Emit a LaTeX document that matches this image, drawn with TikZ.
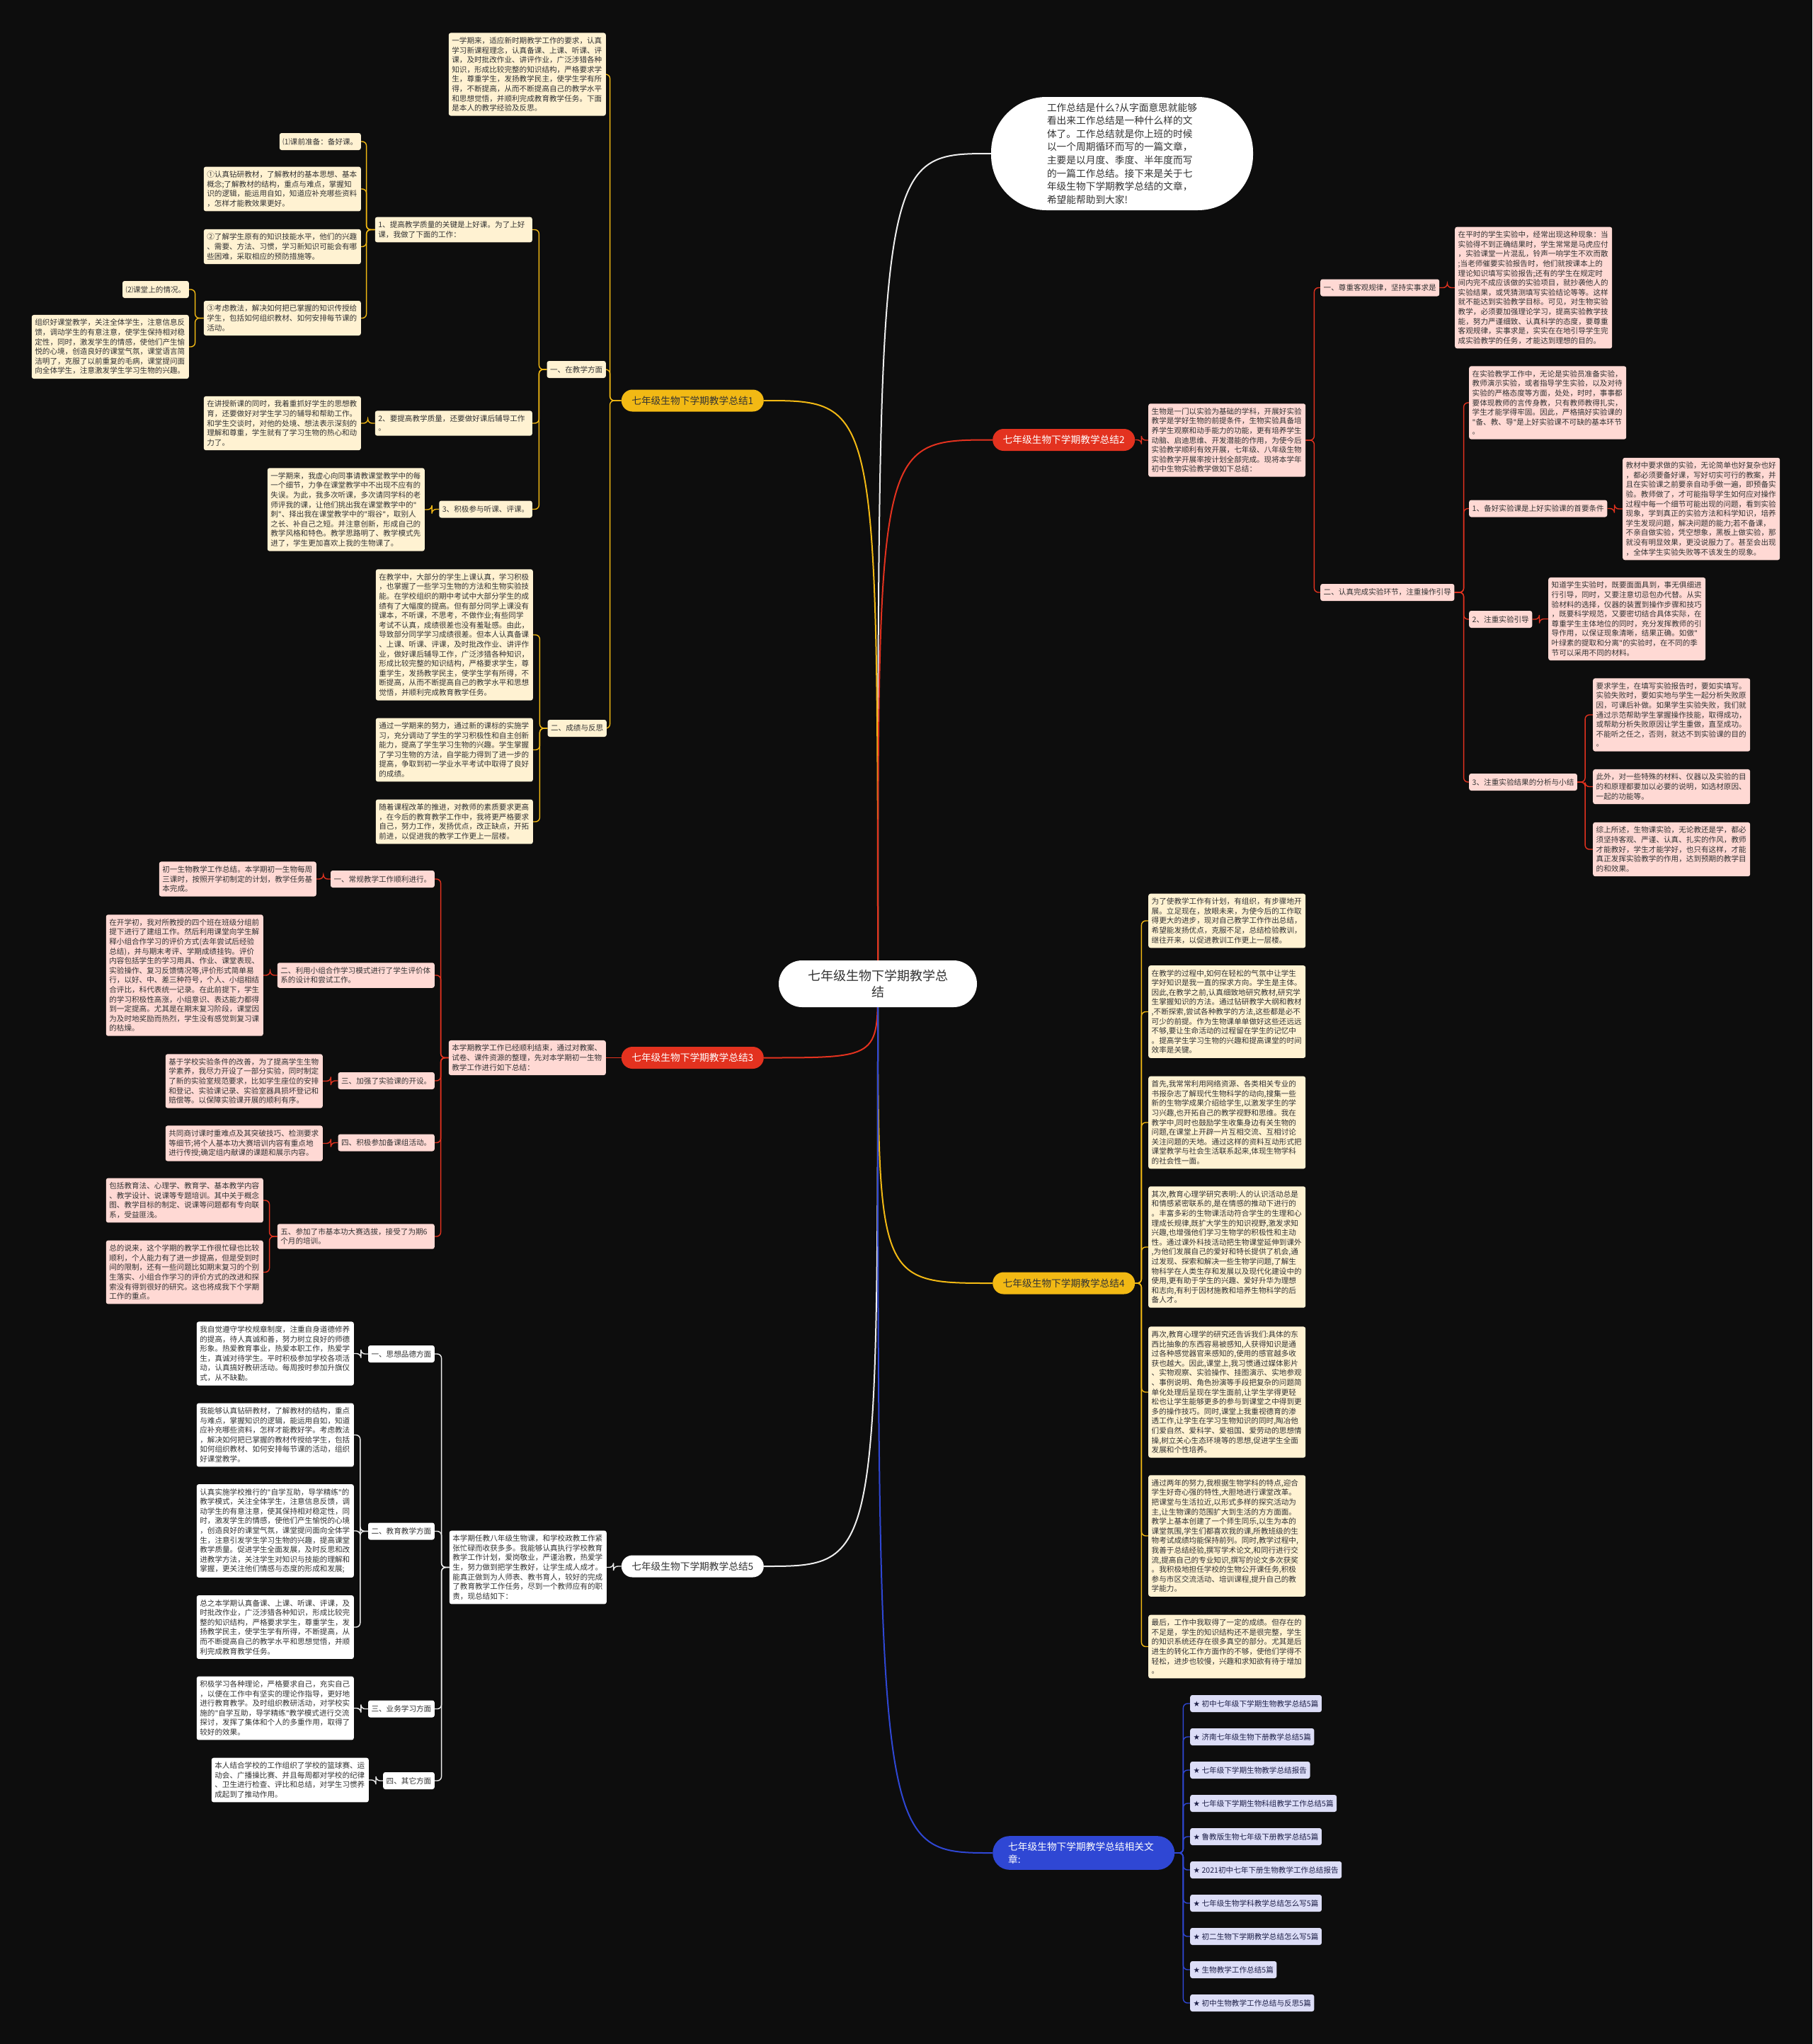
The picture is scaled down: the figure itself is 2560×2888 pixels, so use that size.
\documentclass[tikz,border=0pt]{standalone}
\usepackage{fontspec}
\setmainfont{Noto Sans CJK SC}
\newfontfamily\starfont{DejaVu Sans}
\newcommand\qt{{\starfont"}}
\usetikzlibrary{calc}
\definecolor{bgc}{HTML}{0D0D0D}
\definecolor{goldc}{HTML}{F2B914}
\definecolor{redc}{HTML}{E3321F}
\definecolor{bluec}{HTML}{2F47D4}
\definecolor{wline}{HTML}{EDEDED}
\definecolor{cream}{HTML}{FFF2D2}
\definecolor{pinkc}{HTML}{FFD9D4}
\definecolor{lavc}{HTML}{DCDDF7}
\definecolor{txt}{HTML}{333333}
\definecolor{navy}{HTML}{1E2048}
\pgfdeclarelayer{back}
\pgfdeclarelayer{bg}
\pgfsetlayers{back,bg,main}
\begin{document}
\begin{tikzpicture}[x=1pt,y=-1pt,
  bx/.style={rounded corners=3pt, inner xsep=4.5pt, inner ysep=6pt, align=left, text width=213pt, font=\fontsize{10.6}{13.6}\selectfont, text=txt},
  lb/.style={rounded corners=3pt, inner xsep=4.5pt, inner ysep=4pt, minimum height=24pt, align=left, font=\fontsize{10.6}{13.6}\selectfont, text=txt},
  yc/.style={fill=cream},
  pc/.style={fill=pinkc},
  wc/.style={fill=white},
  lc/.style={fill=lavc, text=navy},
  pill/.style={rounded corners=15.5pt, minimum height=31pt, inner xsep=14.5pt, inner ysep=3pt, font=\fontsize{13.7}{16}\selectfont},
  k0/.style={line width=2pt},
  e1/.style={draw=goldc, line width=1.4pt, rounded corners=6pt},
  e2/.style={draw=redc, line width=1.4pt, rounded corners=6pt},
  e5/.style={draw=wline, line width=1.4pt, rounded corners=6pt},
  e6/.style={draw=bluec, line width=1.4pt, rounded corners=6pt}
]
\begin{pgfonlayer}{back}
\fill[bgc] (0,0) rectangle (2560,2888);
\end{pgfonlayer}
\useasboundingbox (0,0) rectangle (2560,2888);

% ---------- centre and intro bubble ----------
\node[fill=white, rounded corners=33pt, minimum width=280pt, minimum height=66pt, align=center, text=txt, font=\fontsize{18}{23}\selectfont] (ctr) at (1240,1390) {七年级生物下学期教学总\\结};
\node[fill=white, rounded corners=78pt, minimum width=370pt, minimum height=160pt, align=left, text=txt, font=\fontsize{13.7}{18.6}\selectfont] (intro) at (1585,217) {工作总结是什么?从字面意思就能够\\看出来工作总结是一种什么样的文\\体了。工作总结就是你上班的时候\\以一个周期循环而写的一篇文章，\\主要是以月度、季度、半年度而写\\的一篇工作总结。接下来是关于七\\年级生物下学期教学总结的文章，\\希望能帮助到大家!};

% ---------- branch pills ----------
\node[pill, fill=goldc, text=txt, anchor=east] (b1) at (1079,566) {七年级生物下学期教学总结1};
\node[pill, fill=redc, text=white, anchor=west] (b2) at (1402,621.5) {七年级生物下学期教学总结2};
\node[pill, fill=redc, text=white, anchor=east] (b3) at (1079,1494.5) {七年级生物下学期教学总结3};
\node[pill, fill=goldc, text=txt, anchor=west] (b4) at (1402,1813) {七年级生物下学期教学总结4};
\node[pill, fill=white, text=txt, anchor=east] (b5) at (1079,2213) {七年级生物下学期教学总结5};
\node[rounded corners=24pt, fill=bluec, text=white, anchor=west, align=left, text width=213pt, inner xsep=22pt, inner ysep=8.5pt, font=\fontsize{13.7}{18}\selectfont] (b6) at (1402,2618) {七年级生物下学期教学总结相关文\\章:};

% ---------- branch 1 ----------
\node[bx,yc,anchor=east] (n1intro) at (856,105) {一学期来，适应新时期教学工作的要求，认真\\学习新课程理念，认真备课、上课、听课、评\\课，及时批改作业、讲评作业，广泛涉猎各种\\知识，形成比较完整的知识结构，严格要求学\\生，尊重学生，发扬教学民主，使学生学有所\\得，不断提高，从而不断提高自己的教学水平\\和思想觉悟，并顺利完成教育教学任务。下面\\是本人的教学经验及反思。};
\node[lb,yc,anchor=east] (n1a) at (856,522) {一、在教学方面};
\node[lb,yc,anchor=east] (n1b) at (857,1029) {二、成绩与反思};
\node[bx,yc,anchor=east] (n1a1) at (752,324.5) {1、提高教学质量的关键是上好课。为了上好\\课，我做了下面的工作：};
\node[bx,yc,anchor=east] (n1a2) at (752,598) {2、要提高教学质量，还要做好课后辅导工作\\。};
\node[lb,yc,anchor=east] (n1a3) at (752,719.5) {3、积极参与听课、评课。};
\node[lb,yc,anchor=east] (n1a1p) at (510,200) {⑴课前准备：备好课。};
\node[bx,yc,anchor=east] (n1a1i) at (510,267) {①认真钻研教材，了解教材的基本思想、基本\\概念;了解教材的结构，重点与难点，掌握知\\识的逻辑，能运用自如，知道应补充哪些资料\\，怎样才能教效果更好。};
\node[bx,yc,anchor=east] (n1a1ii) at (510,348.5) {②了解学生原有的知识技能水平，他们的兴趣\\、需要、方法、习惯，学习新知识可能会有哪\\些困难，采取相应的预防措施等。};
\node[bx,yc,anchor=east] (n1a1iii) at (510,449.5) {③考虑教法，解决如何把已掌握的知识传授给\\学生，包括如何组织教材、如何安排每节课的\\活动。};
\node[lb,yc,anchor=east] (n1q) at (267,409) {⑵课堂上的情况。};
\node[bx,yc,anchor=east] (n1r) at (267,490) {组织好课堂教学，关注全体学生，注意信息反\\馈，调动学生的有意注意，使学生保持相对稳\\定性，同时，激发学生的情感，使他们产生愉\\悦的心境，创造良好的课堂气氛，课堂语言简\\洁明了，克服了以前重复的毛病，课堂提问面\\向全体学生，注意激发学生学习生物的兴趣。};
\node[bx,yc,anchor=east] (n1a2a) at (510,598) {在讲授新课的同时，我着重抓好学生的思想教\\育，还要做好对学生学习的辅导和帮助工作。\\和学生交谈时，对他的处境、想法表示深刻的\\理解和尊重，学生就有了学习生物的热心和动\\力了。};
\node[bx,yc,anchor=east] (n1a3a) at (600,720) {一学期来，我虚心向同事请教课堂教学中的每\\一个细节，力争在课堂教学中不出现不应有的\\失误。为此，我多次听课，多次请同学科的老\\师评我的课，让他们挑出我在课堂教学中的\qt\\刺\qt、择出我在课堂教学中的\qt 瑕谷\qt，取别人\\之长、补自己之短。并注意创新，形成自己的\\教学风格和特色。教学思路明了、教学模式先\\进了，学生更加喜欢上我的生物课了。};
\node[bx,yc,anchor=east] (n1b1) at (753,897) {在教学中，大部分的学生上课认真，学习积极\\，也掌握了一些学习生物的方法和生物实验技\\能。在学校组织的期中考试中大部分学生的成\\绩有了大幅度的提高。但有部分同学上课没有\\课本，不听课，不思考，不做作业;有些同学\\考试不认真，成绩很差也没有羞耻感。由此，\\导致部分同学学习成绩很差。但本人认真备课\\、上课、听课、评课，及时批改作业、讲评作\\业，做好课后辅导工作，广泛涉猎各种知识，\\形成比较完整的知识结构，严格要求学生，尊\\重学生，发扬教学民主，使学生学有所得，不\\断提高，从而不断提高自己的教学水平和思想\\觉悟，并顺利完成教育教学任务。};
\node[bx,yc,anchor=east] (n1b2) at (753,1059.5) {通过一学期来的努力，通过新的课标的实施学\\习，充分调动了学生的学习积极性和自主创新\\能力，提高了学生学习生物的兴趣。学生掌握\\了学习生物的方法，自学能力得到了进一步的\\提高，争取到初一学业水平考试中取得了良好\\的成绩。};
\node[bx,yc,anchor=east] (n1b3) at (753,1161) {随着课程改革的推进，对教师的素质要求更高\\，在今后的教育教学工作中，我将更严格要求\\自己，努力工作，发扬优点，改正缺点，开拓\\前进，以促进我的教学工作更上一层楼。};

% ---------- branch 3 ----------
\node[bx,pc,anchor=east] (n3) at (856,1494.5) {本学期教学工作已经顺利结束，通过对教案、\\试卷、课件资源的整理，先对本学期初一生物\\教学工作进行如下总结：};
\node[lb,pc,anchor=east] (n3a) at (614,1242) {一、常规教学工作顺利进行。};
\node[bx,pc,anchor=east] (n3a1) at (447,1242) {初一生物教学工作总结。本学期初一生物每周\\三课时，按照开学初制定的计划，教学任务基\\本完成。};
\node[bx,pc,anchor=east] (n3b) at (614,1378) {二、利用小组合作学习模式进行了学生评价体\\系的设计和尝试工作。};
\node[bx,pc,anchor=east] (n3b1) at (372,1378) {在开学初，我对所教授的四个班在班级分组前\\提下进行了建组工作。然后利用课堂向学生解\\释小组合作学习的评价方式(去年尝试后经验\\总结)，并与期末考评、学期成绩挂钩。评价\\内容包括学生的学习用具、作业、课堂表现、\\实验操作、复习反馈情况等,评价形式简单易\\行，以好、中、差三种符号，个人、小组相结\\合评比，科代表统一记录。在此前提下，学生\\的学习积极性高涨，小组意识、表达能力都得\\到一定提高。尤其是在期末复习阶段，课堂因\\为及时地奖励而热烈，学生没有感觉到复习课\\的枯燥。};
\node[lb,pc,anchor=east] (n3c) at (614,1527) {三、加强了实验课的开设。};
\node[bx,pc,anchor=east] (n3c1) at (456,1527.5) {基于学校实验条件的改善，为了提高学生生物\\学素养，我尽力开设了一部分实验，同时制定\\了新的实验室规范要求，比如学生座位的安排\\和登记、实验课记录、实验室器具损坏登记和\\赔偿等。以保障实验课开展的顺利有序。};
\node[lb,pc,anchor=east] (n3d) at (614,1614.5) {四、积极参加备课组活动。};
\node[bx,pc,anchor=east] (n3d1) at (456,1615.5) {共同商讨课时重难点及其突破技巧、检测要求\\等细节;将个人基本功大赛培训内容有重点地\\进行传授;确定组内献课的课题和展示内容。};
\node[bx,pc,anchor=east] (n3e) at (614,1747) {五、参加了市基本功大赛选拔，接受了为期6\\个月的培训。};
\node[bx,pc,anchor=east] (n3e1) at (372,1696) {包括教育法、心理学、教育学、基本教学内容\\、教学设计、说课等专题培训。其中关于概念\\图、教学目标的制定、说课等问题都有专向联\\系，受益匪浅。};
\node[bx,pc,anchor=east] (n3e2) at (372,1797.5) {总的说来，这个学期的教学工作很忙碌也比较\\顺利，个人能力有了进一步提高，但是受到时\\间的限制，还有一些问题比如期末复习的个别\\生落实、小组合作学习的评价方式的改进和探\\索没有得到很好的研究。这也将成我下个学期\\工作的重点。};

% ---------- branch 5 ----------
\node[bx,wc,anchor=east] (n5) at (857,2214.5) {本学期任教八年级生物课，和学校政教工作紧\\张忙碌而收获多多。我能够认真执行学校教育\\教学工作计划，爱岗敬业，严谨治教，热爱学\\生，努力做到把学生教好，让学生成人成才。\\能真正做到为人师表、教书育人，较好的完成\\了教育教学工作任务，尽到一个教师应有的职\\责，现总结如下：};
\node[lb,wc,anchor=east] (n5a) at (614,1913) {一、思想品德方面};
\node[bx,wc,anchor=east] (n5a1) at (500,1912.5) {我自觉遵守学校规章制度，注重自身道德修养\\的提高，待人真诚和善，努力树立良好的师德\\形象。热爱教育事业，热爱本职工作，热爱学\\生，真诚对待学生。平时积极参加学校各项活\\动，认真搞好教研活动。每周按时参加升旗仪\\式，从不缺勤。};
\node[lb,wc,anchor=east] (n5b) at (614,2163.5) {二、教育教学方面};
\node[bx,wc,anchor=east] (n5b1) at (500,2027.5) {我能够认真钻研教材，了解教材的结构，重点\\与难点，掌握知识的逻辑，能运用自如，知道\\应补充哪些资料，怎样才能教好学。考虑教法\\，解决如何把已掌握的教材传授给学生，包括\\如何组织教材、如何安排每节课的活动，组织\\好课堂教学。};
\node[bx,wc,anchor=east] (n5b2) at (500,2163) {认真实施学校推行的\qt 自学互助，导学精练\qt 的\\教学模式，关注全体学生，注意信息反馈，调\\动学生的有意注意，使其保持相对稳定性，同\\时，激发学生的情感，使他们产生愉悦的心境\\，创造良好的课堂气氛，课堂提问面向全体学\\生，注意引发学生学习生物的兴趣，提高课堂\\教学质量。促进学生全面发展，及时反思和改\\进教学方法，关注学生对知识与技能的理解和\\掌握，更关注他们情感与态度的形成和发展;};
\node[bx,wc,anchor=east] (n5b3) at (500,2299) {总之本学期认真备课、上课、听课、评课，及\\时批改作业，广泛涉猎各种知识，形成比较完\\整的知识结构，严格要求学生，尊重学生，发\\扬教学民主，使学生学有所得，不断提高，从\\而不断提高自己的教学水平和思想觉悟，并顺\\利完成教育教学任务。};
\node[lb,wc,anchor=east] (n5c) at (614,2414.5) {三、业务学习方面};
\node[bx,wc,anchor=east] (n5c1) at (500,2413.5) {积极学习各种理论，严格要求自己，充实自己\\，以便在工作中有坚实的理论作指导，更好地\\进行教育教学。及时组织教研活动，对学校实\\施的\qt 自学互助，导学精练\qt 教学模式进行交流\\探讨，发挥了集体和个人的多重作用，取得了\\较好的效果。};
\node[lb,wc,anchor=east] (n5d) at (614,2516) {四、其它方面};
\node[bx,wc,anchor=east] (n5d1) at (521,2515) {本人结合学校的工作组织了学校的篮球赛、运\\动会、广播操比赛、并且每周都对学校的纪律\\、卫生进行检查、评比和总结，对学生习惯养\\成起到了推动作用。};

% ---------- branch 2 ----------
\node[bx,pc,anchor=west] (n2) at (1622,622) {生物是一门以实验为基础的学科，开展好实验\\教学是学好生物的前提条件，生物实验具备培\\养学生观察和动手能力的功能，更有培养学生\\动脑、启迪思维、开发潜能的作用，为使今后\\实验教学顺利有效开展，七年级、八年级生物\\实验教学开展率按计划全部完成。现将本学年\\初中生物实验教学做如下总结：};
\node[lb,pc,anchor=west] (n2a) at (1865,406.5) {一、尊重客观规律，坚持实事求是};
\node[bx,pc,anchor=west] (n2a1) at (2055,406.5) {在平时的学生实验中，经常出现这种现象：当\\实验得不到正确结果时，学生常常是马虎应付\\，实验课堂一片混乱，铃声一响学生不欢而散\\;当老师催要实验报告时，他们就按课本上的\\理论知识填写实验报告;还有的学生在规定时\\间内完不成应该做的实验项目，就抄袭他人的\\实验结果，或凭猜测填写实验结论等等。这样\\就不能达到实验教学目标。可见，对生物实验\\教学，必须要加强理论学习，提高实验教学技\\能，努力严谨细致、认真科学的态度，要尊重\\客观规律，实事求是，实实在在地引导学生完\\成实验教学的任务，才能达到理想的目的。};
\node[lb,pc,anchor=west] (n2b) at (1865,837) {二、认真完成实验环节，注重操作引导};
\node[bx,pc,anchor=west] (n2b0) at (2075,569) {在实验教学工作中，无论是实验员准备实验，\\教师演示实验，或者指导学生实验，以及对待\\实验的严格态度等方面，处处，时时，事事都\\要体现教师的言传身教，只有教师教得扎实，\\学生才能学得牢固。因此，严格搞好实验课的\\\qt 备、教、导\qt 是上好实验课不可缺的基本环节\\。};
\node[lb,pc,anchor=west] (n2b1) at (2075,718.5) {1、备好实验课是上好实验课的首要条件};
\node[bx,pc,anchor=west] (n2b1a) at (2292,719) {教材中要求做的实验，无论简单也好复杂也好\\，都必须要备好课，写好切实可行的教案，并\\且在实验课之前要亲自动手做一遍，即预备实\\验。教师做了，才可能指导学生如何应对操作\\过程中每一个细节可能出现的问题，看到实验\\现象，学到真正的实验方法和科学知识，培养\\学生发现问题，解决问题的能力;若不备课，\\不亲自做实验，凭空想象，黑板上做实验，那\\就没有明显效果，更没说服力了。甚至会出现\\，全体学生实验失败等不该发生的现象。};
\node[lb,pc,anchor=west] (n2b2) at (2075,875) {2、注重实验引导};
\node[bx,pc,anchor=west] (n2b2a) at (2187,874.5) {知道学生实验时，既要面面具到，事无俱细进\\行引导，同时，又要注意切忌包办代替。从实\\验材料的选择，仪器的装置到操作步骤和技巧\\，既要科学规范，又要密切结合具体实际，在\\尊重学生主体地位的同时，充分发挥教师的引\\导作用，以保证现象清晰，结果正确。如做\qt\\叶绿素的提取和分离\qt 的实验时，在不同的季\\节可以采用不同的材料。};
\node[lb,pc,anchor=west] (n2b3) at (2075,1105) {3、注重实验结果的分析与小结};
\node[bx,pc,anchor=west] (n2b3a) at (2250,1010) {要求学生，在填写实验报告时，要如实填写。\\实验失败时，要如实地与学生一起分析失败原\\因，可课后补做。如果学生实验失败，我们就\\通过示范帮助学生掌握操作技能，取得成功，\\或帮助分析失败原因让学生重做，直至成功。\\不能听之任之，否则，就达不到实验课的目的\\。};
\node[bx,pc,anchor=west] (n2b3b) at (2250,1111.5) {此外，对一些特殊的材料、仪器以及实验的目\\的和原理都要加以必要的说明，如选材原因、\\一起的功能等。};
\node[bx,pc,anchor=west] (n2b3c) at (2250,1200) {综上所述，生物课实验，无论教还是学，都必\\须坚持客观、严谨、认真、扎实的作风，教师\\才能教好，学生才能学好，也只有这样，才能\\真正发挥实验教学的作用，达到预期的教学目\\的和效果。};

% ---------- branch 4 ----------
\node[bx,yc,anchor=west] (n4a) at (1622,1301) {为了使教学工作有计划，有组织，有步骤地开\\展。立足现在，放眼未来，为使今后的工作取\\得更大的进步，现对自己教学工作作出总结，\\希望能发扬优点，克服不足，总结检验教训，\\继往开来，以促进教训工作更上一层楼。};
\node[bx,yc,anchor=west] (n4b) at (1622,1429.5) {在教学的过程中,如何在轻松的气氛中让学生\\学好知识是我一直的探求方向。学生是主体。\\因此,在教学之前,认真细致地研究教材,研究学\\生掌握知识的方法。通过钻研教学大纲和教材\\,不断探索,尝试各种教学的方法,这些都是必不\\可少的前提。作为生物课单单做好这些还远远\\不够,要让生命活动的过程留在学生的记忆中\\。提高学生学习生物的兴趣和提高课堂的时间\\效率是关键。};
\node[bx,yc,anchor=west] (n4c) at (1622,1586) {首先,我常常利用网络资源、各类相关专业的\\书报杂志了解现代生物科学的动向,搜集一些\\新的生物学成果介绍给学生,以激发学生的学\\习兴趣,也开拓自己的教学视野和思维。我在\\教学中,同时也鼓励学生收集身边有关生物的\\问题,在课堂上开辟一片互相交流、互相讨论\\关注问题的天地。通过这样的资料互动形式把\\课堂教学与社会生活联系起来,体现生物学科\\的社会性一面。};
\node[bx,yc,anchor=west] (n4d) at (1622,1762) {其次,教育心理学研究表明:人的认识活动总是\\和情感紧密联系的,是在情感的推动下进行的\\。丰富多彩的生物课活动符合学生的生理和心\\理成长规律,既扩大学生的知识视野,激发求知\\兴趣,也增强他们学习生物学的积极性和主动\\性。通过课外科技活动把生物课堂延伸到课外\\,为他们发展自己的爱好和特长提供了机会,通\\过发现、探索和解决一些生物学问题,了解生\\物科学在人类生存和发展以及现代化建设中的\\使用,更有助于学生的兴趣、爱好升华为理想\\和志向,有利于因材施教和培养生物科学的后\\备人才。};
\node[bx,yc,anchor=west] (n4e) at (1622,1967) {再次,教育心理学的研究还告诉我们:具体的东\\西比抽象的东西容易被感知,人获得知识是通\\过各种感觉器官来感知的,使用的感官越多收\\获也越大。因此,课堂上,我习惯通过媒体影片\\、实物观察、实验操作、挂图演示、实地参观\\、事例说明、角色扮演等手段把复杂的问题简\\单化处理后呈现在学生面前,让学生学得更轻\\松也让学生能够更多的参与到课堂之中得到更\\多的操作技巧。同时,课堂上我重视德育的渗\\透工作,让学生在学习生物知识的同时,陶冶他\\们爱自然、爱科学、爱祖国、爱劳动的思想情\\操,树立关心生态环境等的思想,促进学生全面\\发展和个性培养。};
\node[bx,yc,anchor=west] (n4f) at (1622,2170) {通过两年的努力,我根据生物学科的特点,迎合\\学生好奇心强的特性,大胆地进行课堂改革。\\把课堂与生活拉近,以形式多样的探究活动为\\主,让生物课的范围扩大到生活的方方面面。\\教学上基本创建了一个师生同乐,以生为本的\\课堂氛围,学生们都喜欢我的课,所教班级的生\\物考试成绩均能保持前列。同时,教学过程中,\\我善于总结经验,撰写学术论文,和同行进行交\\流,提高自己的专业知识,撰写的论文多次获奖\\。我积极地担任学校的生物公开课任务,积极\\参与市区交流活动、培训课程,提升自己的教\\学能力。};
\node[bx,yc,anchor=west] (n4g) at (1622,2326.5) {最后，工作中我取得了一定的成绩。但存在的\\不足是，学生的知识结构还不是很完整，学生\\的知识系统还存在很多真空的部分。尤其是后\\进生的转化工作方面作的不够，使他们学得不\\轻松，进步也较慢，兴趣和求知欲有待于增加\\。};

% ---------- branch 6 ----------
\node[lb,lc,anchor=west] (r1) at (1681,2407) {{\starfont ★} 初中七年级下学期生物教学总结5篇};
\node[lb,lc,anchor=west] (r2) at (1681,2454) {{\starfont ★} 济南七年级生物下册教学总结5篇};
\node[lb,lc,anchor=west] (r3) at (1681,2501) {{\starfont ★} 七年级下学期生物教学总结报告};
\node[lb,lc,anchor=west] (r4) at (1681,2548) {{\starfont ★} 七年级下学期生物科组教学工作总结5篇};
\node[lb,lc,anchor=west] (r5) at (1681,2595) {{\starfont ★} 鲁教版生物七年级下册教学总结5篇};
\node[lb,lc,anchor=west] (r6) at (1681,2642) {{\starfont ★} 2021初中七年下册生物教学工作总结报告};
\node[lb,lc,anchor=west] (r7) at (1681,2689) {{\starfont ★} 七年级生物学科教学总结怎么写5篇};
\node[lb,lc,anchor=west] (r8) at (1681,2736) {{\starfont ★} 初二生物下学期教学总结怎么写5篇};
\node[lb,lc,anchor=west] (r9) at (1681,2783) {{\starfont ★} 生物教学工作总结5篇};
\node[lb,lc,anchor=west] (r10) at (1681,2830) {{\starfont ★} 初中生物教学工作总结与反思5篇};

% ---------- connectors ----------
\begin{pgfonlayer}{bg}
\draw[k0, wline] (ctr.center) .. controls (ctr.center |- intro.west) .. (intro.west);
\draw[k0, goldc] (ctr.center) .. controls (ctr.center |- b1.east) .. (b1.east);
\draw[k0, redc] (ctr.center) .. controls (ctr.center |- b2.west) .. (b2.west);
\draw[k0, redc] (ctr.center) .. controls (ctr.center |- b3.east) .. (b3.east);
\draw[k0, goldc] (ctr.center) .. controls (ctr.center |- b4.west) .. (b4.west);
\draw[k0, wline] (ctr.center) .. controls (ctr.center |- b5.east) .. (b5.east);
\draw[k0, bluec] (ctr.center) .. controls (ctr.center |- b6.west) .. (b6.west);

% branch 1
\foreach \c in {n1intro,n1a,n1b} \draw[e1] (b1.west) -- ++(-16,0) |- (\c.east);
\foreach \c in {n1a1,n1a2,n1a3} \draw[e1] (n1a.west) -- ++(-11,0) |- (\c.east);
\foreach \c in {n1a1p,n1a1i,n1a1ii,n1a1iii} \draw[e1] (n1a1.west) -- ++(-12,0) |- (\c.east);
\foreach \c in {n1q,n1r} \draw[e1] (n1a1iii.west) -- ++(-12,0) |- (\c.east);
\draw[e1] (n1a2.west) -- ++(-10,0) |- (n1a2a.east);
\draw[e1] (n1a3.west) -- ++(-10,0) |- (n1a3a.east);
\foreach \c in {n1b1,n1b2,n1b3} \draw[e1] (n1b.west) -- ++(-11,0) |- (\c.east);

% branch 3
\draw[e2] (b3.west) -- (n3.east);
\foreach \c in {n3a,n3b,n3c,n3d,n3e} \draw[e2] (n3.west) -- ++(-11,0) |- (\c.east);
\draw[e2] (n3a.west) -- ++(-10,0) |- (n3a1.east);
\draw[e2] (n3b.west) -- ++(-10,0) |- (n3b1.east);
\draw[e2] (n3c.west) -- ++(-10,0) |- (n3c1.east);
\draw[e2] (n3d.west) -- ++(-10,0) |- (n3d1.east);
\foreach \c in {n3e1,n3e2} \draw[e2] (n3e.west) -- ++(-11,0) |- (\c.east);

% branch 5
\draw[e5] (b5.west) -- ++(-11,0) |- (n5.east);
\foreach \c in {n5a,n5b,n5c,n5d} \draw[e5] (n5.west) -- ++(-11,0) |- (\c.east);
\draw[e5] (n5a.west) -- ++(-10,0) |- (n5a1.east);
\foreach \c in {n5b1,n5b2,n5b3} \draw[e5] (n5b.west) -- ++(-11,0) |- (\c.east);
\draw[e5] (n5c.west) -- ++(-10,0) |- (n5c1.east);
\draw[e5] (n5d.west) -- ++(-10,0) |- (n5d1.east);

% branch 2
\draw[e2] (b2.east) -- ++(9,0) |- (n2.west);
\foreach \c in {n2a,n2b} \draw[e2] (n2.east) -- ++(12,0) |- (\c.west);
\draw[e2] (n2a.east) -- ++(11,0) |- (n2a1.west);
\foreach \c in {n2b0,n2b1,n2b2,n2b3} \draw[e2] (n2b.east) -- ++(13,0) |- (\c.west);
\draw[e2] (n2b1.east) -- ++(10,0) |- (n2b1a.west);
\draw[e2] (n2b2.east) -- ++(10,0) |- (n2b2a.west);
\foreach \c in {n2b3a,n2b3b,n2b3c} \draw[e2] (n2b3.east) -- ++(11,0) |- (\c.west);

% branch 4
\foreach \c in {n4a,n4b,n4c,n4d,n4e,n4f,n4g} \draw[e1] (b4.east) -- ++(9,0) |- (\c.west);

% branch 6
\foreach \c in {r1,r2,r3,r4,r5,r6,r7,r8,r9,r10} \draw[e6] (b6.east) -- ++(12,0) |- (\c.west);
\end{pgfonlayer}
\end{tikzpicture}
\end{document}
